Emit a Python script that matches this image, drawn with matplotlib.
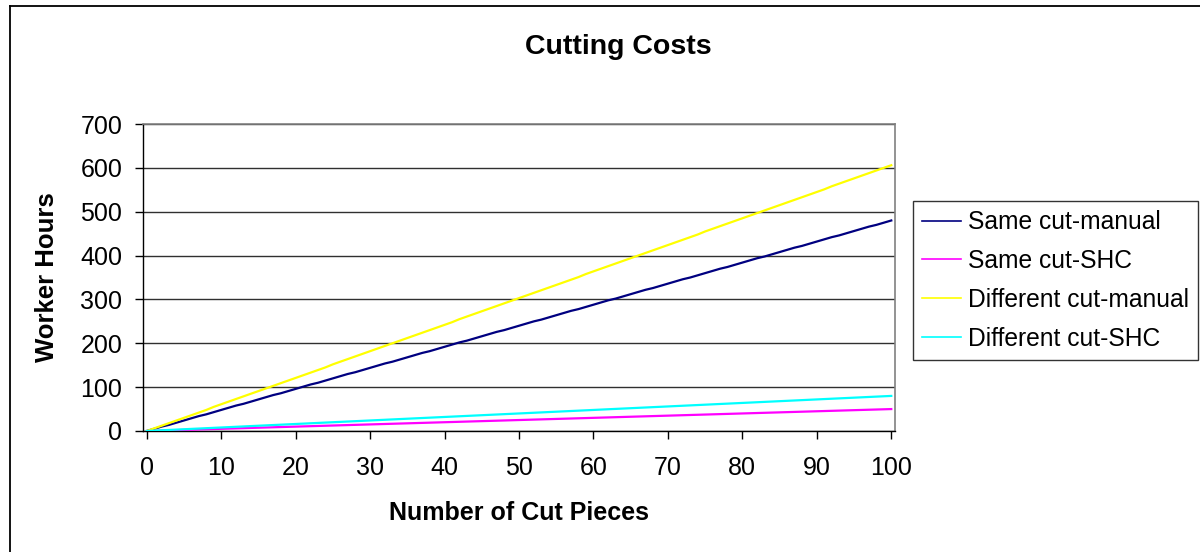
import matplotlib
matplotlib.use("Agg")
import matplotlib.pyplot as plt
from matplotlib.lines import Line2D

plt.rcParams['font.family'] = ['Liberation Sans', 'DejaVu Sans']

pieces = list(range(0, 101))

same_cut_manual = [
    0, 5, 10, 14, 19, 24, 29, 34, 38, 43,
    48, 53, 58, 62, 67, 72, 77, 82, 86, 91,
    96, 101, 106, 110, 115, 120, 125, 130, 134, 139,
    144, 149, 154, 158, 163, 168, 173, 178, 182, 187,
    192, 197, 202, 206, 211, 216, 221, 226, 230, 235,
    240, 245, 250, 254, 259, 264, 269, 274, 278, 283,
    288, 293, 298, 302, 307, 312, 317, 322, 326, 331,
    336, 341, 346, 350, 355, 360, 365, 370, 374, 379,
    384, 389, 394, 398, 403, 408, 413, 418, 422, 427,
    432, 437, 442, 446, 451, 456, 461, 466, 470, 475,
    480]

same_cut_shc = [
    0, 0.5, 1, 1.5, 2, 2.5, 3, 3.5, 4, 4.5,
    5, 5.5, 6, 6.5, 7, 7.5, 8, 8.5, 9, 9.5,
    10, 10.5, 11, 11.5, 12, 12.5, 13, 13.5, 14, 14.5,
    15, 15.5, 16, 16.5, 17, 17.5, 18, 18.5, 19, 19.5,
    20, 20.5, 21, 21.5, 22, 22.5, 23, 23.5, 24, 24.5,
    25, 25.5, 26, 26.5, 27, 27.5, 28, 28.5, 29, 29.5,
    30, 30.5, 31, 31.5, 32, 32.5, 33, 33.5, 34, 34.5,
    35, 35.5, 36, 36.5, 37, 37.5, 38, 38.5, 39, 39.5,
    40, 40.5, 41, 41.5, 42, 42.5, 43, 43.5, 44, 44.5,
    45, 45.5, 46, 46.5, 47, 47.5, 48, 48.5, 49, 49.5,
    50]

different_cut_manual = [
    0, 6, 12, 18, 24, 30, 36, 42, 48, 55,
    61, 67, 73, 79, 85, 91, 97, 103, 109, 115,
    121, 127, 133, 139, 145, 152, 158, 164, 170, 176,
    182, 188, 194, 200, 206, 212, 218, 224, 230, 236,
    242, 248, 255, 261, 267, 273, 279, 285, 291, 297,
    303, 309, 315, 321, 327, 333, 339, 345, 351, 358,
    364, 370, 376, 382, 388, 394, 400, 406, 412, 418,
    424, 430, 436, 442, 448, 455, 461, 467, 473, 479,
    485, 491, 497, 503, 509, 515, 521, 527, 533, 539,
    545, 551, 558, 564, 570, 576, 582, 588, 594, 600,
    606]

different_cut_shc = [
    0, 0.8, 1.6, 2.4, 3.2, 4, 4.8, 5.6, 6.4, 7.2,
    8, 8.8, 9.6, 10.4, 11.2, 12, 12.8, 13.6, 14.4, 15.2,
    16, 16.8, 17.6, 18.4, 19.2, 20, 20.8, 21.6, 22.4, 23.2,
    24, 24.8, 25.6, 26.4, 27.2, 28, 28.8, 29.6, 30.4, 31.2,
    32, 32.8, 33.6, 34.4, 35.2, 36, 36.8, 37.6, 38.4, 39.2,
    40, 40.8, 41.6, 42.4, 43.2, 44, 44.8, 45.6, 46.4, 47.2,
    48, 48.8, 49.6, 50.4, 51.2, 52, 52.8, 53.6, 54.4, 55.2,
    56, 56.8, 57.6, 58.4, 59.2, 60, 60.8, 61.6, 62.4, 63.2,
    64, 64.8, 65.6, 66.4, 67.2, 68, 68.8, 69.6, 70.4, 71.2,
    72, 72.8, 73.6, 74.4, 75.2, 76, 76.8, 77.6, 78.4, 79.2,
    80]

series_names = ["Same cut-manual", "Same cut-SHC", "Different cut-manual", "Different cut-SHC"]
series_colors = ["#000080", "#FF00FF", "#FFFF00", "#00FFFF"]
x_ticks = list(range(0, 101, 10))
y_ticks = list(range(0, 701, 100))

W, H = 1200, 552
fig = plt.figure(figsize=(W / 100, H / 100), dpi=100)
fig.patch.set_facecolor("white")

left, right, top, bottom = 143, 895, 124, 431
ax = fig.add_axes([left / W, 1 - bottom / H, (right - left) / W, (bottom - top) / H])

for name, vals, col in zip(series_names,
                           [same_cut_manual, same_cut_shc, different_cut_manual, different_cut_shc],
                           series_colors):
    ax.plot(pieces, vals, color=col, lw=1.6, label=name, zorder=3)

ax.set_xlim(-0.5, 100.5)
ax.set_ylim(0, 700)
ax.set_xticks(x_ticks)
ax.set_yticks(y_ticks)
ax.grid(axis='y', color='#303030', lw=1.0, zorder=1)
ax.set_axisbelow(True)

for s in ['top', 'right']:
    ax.spines[s].set_color('#808080')
    ax.spines[s].set_linewidth(1.2)
for s in ['left', 'bottom']:
    ax.spines[s].set_color('black')
    ax.spines[s].set_linewidth(1.0)

ax.tick_params(axis='both', direction='out', length=6, width=1, color='black', labelsize=18)
ax.tick_params(axis='x', pad=12)
ax.tick_params(axis='y', pad=9)

ax.set_xlabel("Number of Cut Pieces", fontsize=18, fontweight='bold', va='center')
ax.xaxis.set_label_coords(0.5, (bottom - 513) / (bottom - top))
ax.set_ylabel("Worker Hours", fontsize=18.5, fontweight='bold', va='center')
ax.yaxis.set_label_coords((47 - left) / (right - left), 0.5)

fig.text(618 / W, 1 - 47 / H, "Cutting Costs", fontsize=20.5, fontweight='bold',
         ha='center', va='center')

leg = ax.legend(loc='upper left', bbox_to_anchor=(913 / W, 1 - 201 / H),
                bbox_transform=fig.transFigure, fontsize=17.7, frameon=True,
                fancybox=False, shadow=False, borderaxespad=0, borderpad=0.38,
                handlelength=1.58, handletextpad=0.26, labelspacing=0.6)
leg.get_frame().set_edgecolor('black')
leg.get_frame().set_linewidth(1.0)
for lh in leg.get_lines():
    lh.set_linewidth(1.2)

# chart area border (left and top visible)
fig.add_artist(Line2D([10 / W, 10 / W], [0, 1 - 6 / H], transform=fig.transFigure,
                      color='black', lw=1.3))
fig.add_artist(Line2D([10 / W, 1], [1 - 6 / H, 1 - 6 / H], transform=fig.transFigure,
                      color='black', lw=1.3))

fig.savefig("out.png", dpi=100)
